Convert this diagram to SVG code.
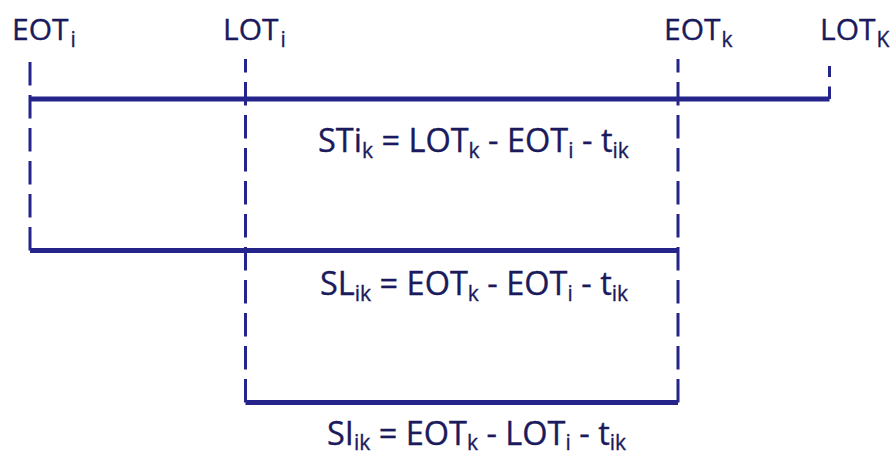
<svg xmlns="http://www.w3.org/2000/svg" width="893" height="456" viewBox="0 0 893 456">
  <style>
    .bar { stroke: #24248a; stroke-width: 5; fill: none; stroke-linecap: butt; }
    .guide { stroke: #24248a; stroke-width: 3; fill: none; stroke-dasharray: 23.5 9.5; }
    .lbl { font-family: "Open Sans", "Liberation Sans", sans-serif; fill: #1a1a5c; stroke: #1a1a5c; stroke-width: 0.35; }
    .top { font-size: 30px; }
    .eq { font-size: 32.5px; }
    .sub { font-size: 21px; }
  </style>
  <rect width="893" height="456" fill="#ffffff"/>

  <!-- time markers -->
  <g id="eot-i">
    <text class="lbl top" x="12" y="40">EOT<tspan class="sub" dx="2" dy="7">i</tspan></text>
  </g>
  <g id="lot-i">
    <text class="lbl top" x="223" y="40">LOT<tspan class="sub" dx="2" dy="7">i</tspan></text>
  </g>
  <g id="eot-k">
    <text class="lbl top" x="664" y="40">EOT<tspan class="sub" dx="1" dy="7">k</tspan></text>
  </g>
  <g id="lot-k">
    <text class="lbl top" x="820" y="40">LOT<tspan class="sub" dx="1" dy="7">K</tspan></text>
  </g>

  <!-- slack formulas -->
  <g id="sti">
    <text class="lbl eq" x="318" y="152">STi<tspan class="sub" dy="6">k</tspan><tspan dy="-6"> = LOT</tspan><tspan class="sub" dy="6">k</tspan><tspan dy="-6"> - EOT</tspan><tspan class="sub" dy="6">i</tspan><tspan dy="-6"> - t</tspan><tspan class="sub" dy="6">ik</tspan></text>
  </g>
  <g id="sl">
    <text class="lbl eq" x="320" y="295">SL<tspan class="sub" dy="6">ik</tspan><tspan dy="-6"> = EOT</tspan><tspan class="sub" dy="6">k</tspan><tspan dy="-6"> - EOT</tspan><tspan class="sub" dy="6">i</tspan><tspan dy="-6"> - t</tspan><tspan class="sub" dy="6">ik</tspan></text>
  </g>
  <g id="si">
    <text class="lbl eq" x="327" y="445">SI<tspan class="sub" dy="5">ik</tspan><tspan dy="-5"> = EOT</tspan><tspan class="sub" dy="5">k</tspan><tspan dy="-5"> - LOT</tspan><tspan class="sub" dy="5">i</tspan><tspan dy="-5"> - t</tspan><tspan class="sub" dy="5">ik</tspan></text>
  </g>

  <!-- dashed guides and interval bars -->
  <g id="connectors">
    <line class="guide" x1="30" y1="62" x2="30" y2="251"/>
    <line class="guide" x1="245.5" y1="59" x2="245.5" y2="403" stroke-dashoffset="10"/>
    <line class="guide" x1="678" y1="59" x2="678" y2="403" stroke-dashoffset="10"/>
    <line class="guide" x1="829.5" y1="66" x2="829.5" y2="99" stroke-dashoffset="12.5"/>

    <polyline class="bar" points="30,99 829.5,99"/>
    <polyline class="bar" points="30,250.5 678,250.5"/>
    <polyline class="bar" points="245.5,402.5 678,402.5"/>
  </g>
</svg>
